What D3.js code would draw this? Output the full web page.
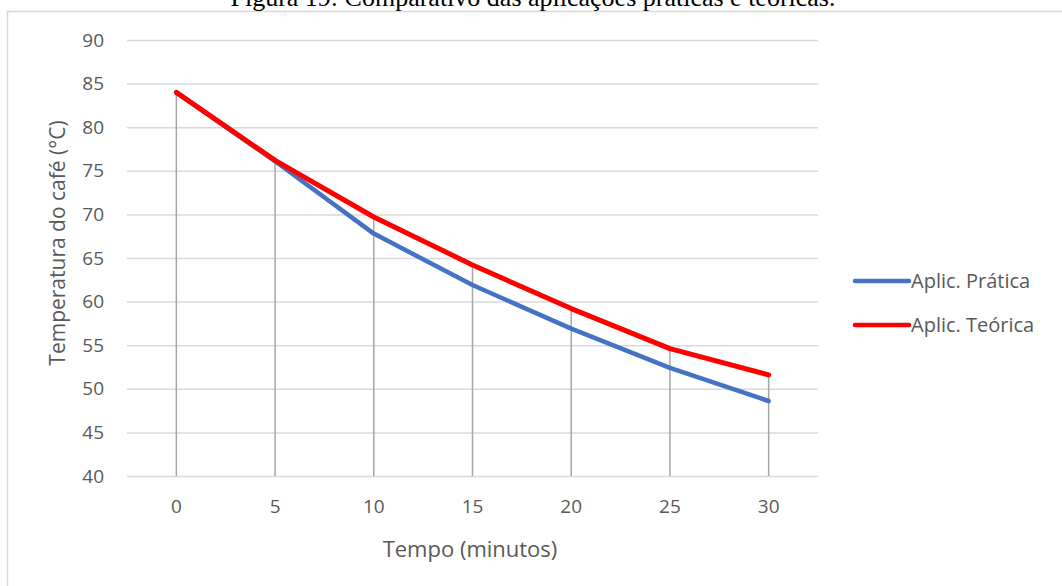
<!DOCTYPE html>
<html>
<head>
<meta charset="utf-8">
<script src="https://cdn.jsdelivr.net/npm/d3@7"></script>
<style>
  html, body { margin: 0; padding: 0; background: #fff; }
  svg { display: block; }
</style>
</head>
<body>
<svg id="chart" width="1062" height="586"></svg>
<script>
const titleText = "Figura 19: Comparativo das aplicações práticas e teóricas.";
const categories = [0, 5, 10, 15, 20, 25, 30];
const pratica = [84, 76.1, 67.8, 61.9, 56.9, 52.4, 48.6];
const teorica = [84, 76.2, 69.7, 64.2, 59.2, 54.6, 51.6];
const seriesNames = ["Aplic. Prática", "Aplic. Teórica"];
const seriesColors = ["#4472C4", "#FF0000"];
const yTicks = [40, 45, 50, 55, 60, 65, 70, 75, 80, 85, 90];
const xTitle = "Tempo (minutos)";
const yTitle = "Temperatura do café (°C)";

const svg = d3.select("#chart");
const W = 1062, H = 586;
const plot = { left: 127, right: 818, top: 40, bottom: 476 };
const font = "'Open Sans', sans-serif";
const textColor = "#595959";

// chart border
svg.append("path")
  .attr("d", `M7.5,${H} V11.5 H${W}`)
  .attr("fill", "none").attr("stroke", "#D9D9D9").attr("stroke-width", 1.5);

// title (partly cut off at the top, as in the reference)
svg.append("text")
  .attr("x", 533).attr("y", 6)
  .attr("text-anchor", "middle")
  .attr("font-family", "'Liberation Serif', 'Times New Roman', serif")
  .attr("font-size", 26)
  .attr("fill", "#000")
  .text(titleText);

const x = d3.scaleBand().domain(categories).range([plot.left, plot.right]).padding(0);
const xc = d => x(d) + x.bandwidth() / 2;
const y = d3.scaleLinear().domain([40, 90]).range([plot.bottom, plot.top]);

// gridlines + y labels
const yAxis = d3.axisLeft(y).tickValues(yTicks).tickSize(-(plot.right - plot.left)).tickPadding(23);
const gy = svg.append("g").attr("transform", `translate(${plot.left},0)`).call(yAxis);
gy.select(".domain").remove();
gy.selectAll(".tick line").attr("stroke", "#D9D9D9").attr("stroke-width", 1.5);
gy.selectAll(".tick text").attr("font-family", font).attr("font-size", 19).attr("fill", textColor);

// drop lines
const tops = categories.map((c, i) => Math.max(pratica[i], teorica[i]));
svg.append("g").selectAll("line").data(categories).join("line")
  .attr("x1", d => xc(d)).attr("x2", d => xc(d))
  .attr("y1", (d, i) => y(tops[i])).attr("y2", plot.bottom)
  .attr("stroke", "#A6A6A6").attr("stroke-width", 1.5);

// x axis labels
const xAxis = d3.axisBottom(x).tickSize(0).tickPadding(24);
const gx = svg.append("g").attr("transform", `translate(0,${plot.bottom})`).call(xAxis);
gx.select(".domain").remove();
gx.selectAll(".tick text").attr("font-family", font).attr("font-size", 19).attr("fill", textColor);

// lines
const lineGen = d3.line().x((d, i) => xc(categories[i])).y(d => y(d));
[pratica, teorica].forEach((vals, k) => {
  svg.append("path").datum(vals)
    .attr("d", lineGen)
    .attr("fill", "none")
    .attr("stroke", seriesColors[k])
    .attr("stroke-width", k === 0 ? 4.5 : 5)
    .attr("stroke-linejoin", "round")
    .attr("stroke-linecap", "round");
});

// axis titles
svg.append("text")
  .attr("x", 470).attr("y", 549).attr("dy", "0.35em")
  .attr("text-anchor", "middle")
  .attr("font-family", font).attr("font-size", 22).attr("fill", textColor)
  .text(xTitle);
svg.append("text")
  .attr("transform", `translate(58,243) rotate(-90)`)
  .attr("text-anchor", "middle").attr("dy", "0.35em")
  .attr("font-family", font).attr("font-size", 21).attr("fill", textColor)
  .text(yTitle);

// legend
const leg = svg.append("g");
seriesNames.forEach((name, k) => {
  const ly = 281 + k * 44;
  leg.append("line")
    .attr("x1", 855).attr("x2", 909).attr("y1", ly).attr("y2", ly)
    .attr("stroke", seriesColors[k]).attr("stroke-width", 4.5).attr("stroke-linecap", "round");
  leg.append("text")
    .attr("x", 911).attr("y", ly).attr("dy", "0.35em")
    .attr("font-family", font).attr("font-size", 20).attr("fill", textColor)
    .text(name);
});
</script>
</body>
</html>
